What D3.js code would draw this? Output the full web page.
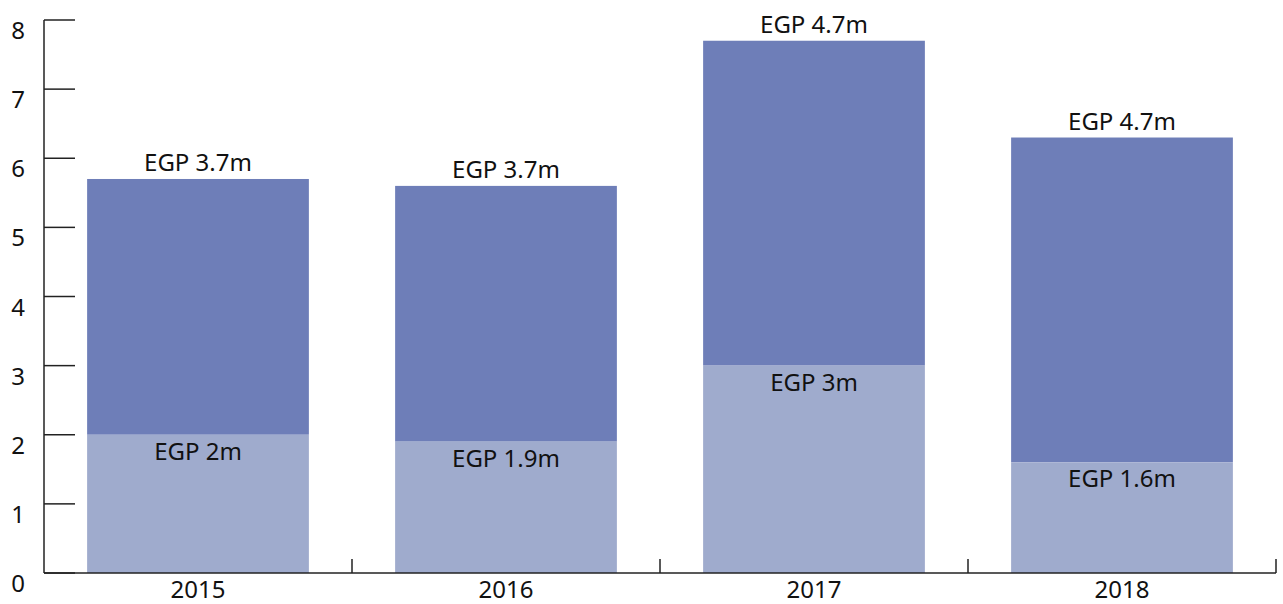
<!DOCTYPE html>
<head>
<meta charset="utf-8">
<script src="https://d3js.org/d3.v7.min.js"></script>
<style>
body { margin: 0; background: #fff; font-family: "Noto Sans", sans-serif; }
svg { display: block; }
.axis line, .axis path { stroke: #222; stroke-width: 1.5px; fill: none; }
text { fill: #111; font-size: 24px; }
</style>
</head>
<body>
<script>
const years = ["2015", "2016", "2017", "2018"];
const baseVals = [2, 1.9, 3, 1.6];
const topVals = [3.7, 3.7, 4.7, 4.7];
const yTicks = [0, 1, 2, 3, 4, 5, 6, 7, 8];

const width = 1283, height = 604;
const plotLeft = 44, plotRight = 1276, plotTop = 20, plotBottom = 573;

const svg = d3.select('body').append('svg')
  .attr('width', width)
  .attr('height', height);

const x = d3.scaleBand()
  .domain(years)
  .range([plotLeft, plotRight])
  .paddingInner(0.28)
  .paddingOuter(0.14);

const y = d3.scaleLinear()
  .domain([0, 8])
  .range([plotBottom, plotTop]);

const step = x.step();

// bars
const g = svg.append('g');
years.forEach((yr, i) => {
  const b = baseVals[i], t = topVals[i];
  g.append('rect')
    .attr('x', x(yr))
    .attr('width', x.bandwidth())
    .attr('y', y(b + t))
    .attr('height', y(b) - y(b + t))
    .attr('fill', '#6e7eb8');
  g.append('rect')
    .attr('x', x(yr))
    .attr('width', x.bandwidth())
    .attr('y', y(b))
    .attr('height', y(0) - y(b))
    .attr('fill', '#9fabcd');
  g.append('text')
    .attr('x', x(yr) + x.bandwidth() / 2)
    .attr('y', y(b + t) - 8)
    .attr('text-anchor', 'middle')
    .text('EGP ' + t + 'm');
  g.append('text')
    .attr('x', x(yr) + x.bandwidth() / 2)
    .attr('y', y(b) + 25)
    .attr('text-anchor', 'middle')
    .text('EGP ' + b + 'm');
});

// y axis
const yAxis = svg.append('g').attr('class', 'axis');
yAxis.append('line')
  .attr('x1', plotLeft).attr('x2', plotLeft)
  .attr('y1', y(8)).attr('y2', y(0));
yTicks.forEach(d => {
  yAxis.append('line')
    .attr('x1', plotLeft).attr('x2', plotLeft + 31)
    .attr('y1', y(d)).attr('y2', y(d));
  yAxis.append('text')
    .attr('x', 25)
    .attr('y', y(d) + 19)
    .attr('text-anchor', 'end')
    .text(d);
});

// x axis
const xAxis = svg.append('g').attr('class', 'axis');
xAxis.append('line')
  .attr('x1', plotLeft).attr('x2', plotRight)
  .attr('y1', plotBottom).attr('y2', plotBottom);
years.forEach((yr, i) => {
  const edge = plotLeft + step * (i + 1);
  xAxis.append('line')
    .attr('x1', edge).attr('x2', edge)
    .attr('y1', plotBottom).attr('y2', plotBottom - 14);
  xAxis.append('text')
    .attr('x', x(yr) + x.bandwidth() / 2)
    .attr('y', plotBottom + 25)
    .attr('text-anchor', 'middle')
    .text(yr);
});
</script>
</body>
